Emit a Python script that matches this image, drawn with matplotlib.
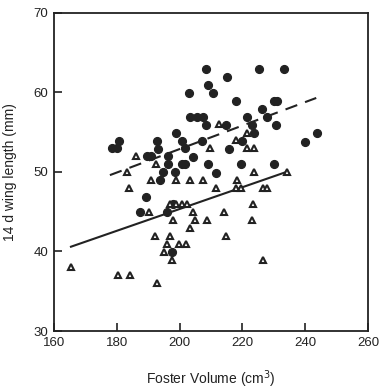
import matplotlib.pyplot as plt
import numpy as np

# Filled circles (one group of nestlings)
circle_x = [208.3, 225.4, 233.3, 215.2, 208.9, 202.9, 210.5, 218.1, 230.2, 231.1,
            226.3, 203.2, 205.4, 207.3, 221.3, 227.9, 208.3, 214.9, 223.2, 230.8,
            199.0, 223.8, 243.8, 180.6, 192.7, 200.6, 207.0, 220.0, 240.0, 178.4,
            180.0, 193.0, 201.6, 215.6, 189.5, 190.8, 196.2, 204.1, 196.2, 200.6,
            201.6, 208.9, 219.7, 230.2, 194.6, 198.4, 211.7, 193.7, 189.2, 197.8,
            187.3, 195.9, 197.5]
circle_y = [63.0, 63.0, 63.0, 61.9, 60.9, 59.9, 59.9, 58.9, 58.9, 58.9,
            57.9, 56.9, 56.9, 56.9, 56.9, 56.9, 55.9, 55.9, 55.9, 55.9,
            54.9, 54.9, 54.9, 53.9, 53.9, 53.9, 53.9, 53.9, 53.8, 53.0,
            53.0, 52.9, 53.0, 52.9, 52.0, 52.0, 52.0, 51.9, 51.0, 51.0,
            51.0, 51.0, 51.0, 51.0, 50.0, 50.0, 49.9, 49.0, 46.9, 46.0,
            45.0, 45.0, 39.9]

# Open triangles (other group)
tri_x = [212.4, 221.6, 218.1, 209.8, 221.6, 223.8, 186.0, 192.4, 183.2, 190.8,
         199.0, 203.2, 207.3, 218.4, 183.8, 211.7, 218.1, 219.7, 226.7, 227.9,
         196.8, 199.0, 200.6, 202.2, 190.2, 204.1, 214.0, 223.5, 197.8, 204.8,
         208.6, 222.9, 203.2, 192.1, 196.8, 214.9, 195.9, 199.7, 201.9, 194.9,
         197.5, 226.7, 165.4, 180.3, 184.1, 192.7, 223.8, 234.3]
tri_y = [56.0, 54.9, 54.0, 53.0, 53.0, 53.0, 52.0, 51.0, 50.0, 49.0,
         49.0, 49.0, 49.0, 49.0, 48.0, 48.0, 48.0, 48.0, 48.0, 48.0,
         46.0, 46.0, 46.0, 46.0, 45.0, 45.0, 45.0, 46.0, 44.0, 44.0,
         44.0, 44.0, 43.0, 42.0, 42.0, 42.0, 40.9, 40.9, 40.9, 39.9,
         38.9, 38.9, 38.1, 37.0, 37.0, 36.0, 50.0, 50.0]

# Fitted lines (end points)
dash_x = [177.8, 243.5]
dash_y = [49.6, 59.3]
solid_x = [165.4, 234.0]
solid_y = [40.6, 50.0]

x_ticks = [160, 180, 200, 220, 240, 260]
y_ticks = [30, 40, 50, 60, 70]

plt.rcParams['font.family'] = ['Liberation Sans', 'DejaVu Sans']

fig = plt.figure(figsize=(3.83, 3.89), dpi=100)
ax = fig.add_axes([0.141, 0.149, 0.820, 0.818])

ax.plot(dash_x, dash_y, color='#222222', linewidth=1.5, linestyle=(0, (6, 4)))
ax.plot(solid_x, solid_y, color='#222222', linewidth=1.5)

ax.plot(circle_x, circle_y, 'o', color='#222222', markersize=5.6, linestyle='none')
ax.plot(tri_x, tri_y, '^', markerfacecolor='white', markeredgecolor='#222222',
        markeredgewidth=1.5, markersize=4.6, linestyle='none')

ax.set_xlim(160, 260)
ax.set_ylim(30, 70)
ax.set_xticks(x_ticks)
ax.set_yticks(y_ticks)
ax.tick_params(direction='in', length=6, width=1.2, labelsize=9.5, colors='#222222', pad=4)
for s in ax.spines.values():
    s.set_linewidth(1.3)
    s.set_color('#222222')

ax.set_xlabel('Foster Volume (cm$^3$)', fontsize=10, color='#222222', labelpad=14)
ax.set_ylabel('14 d wing length (mm)', fontsize=10, color='#222222', labelpad=12)

fig.savefig('out.png', dpi=100)
